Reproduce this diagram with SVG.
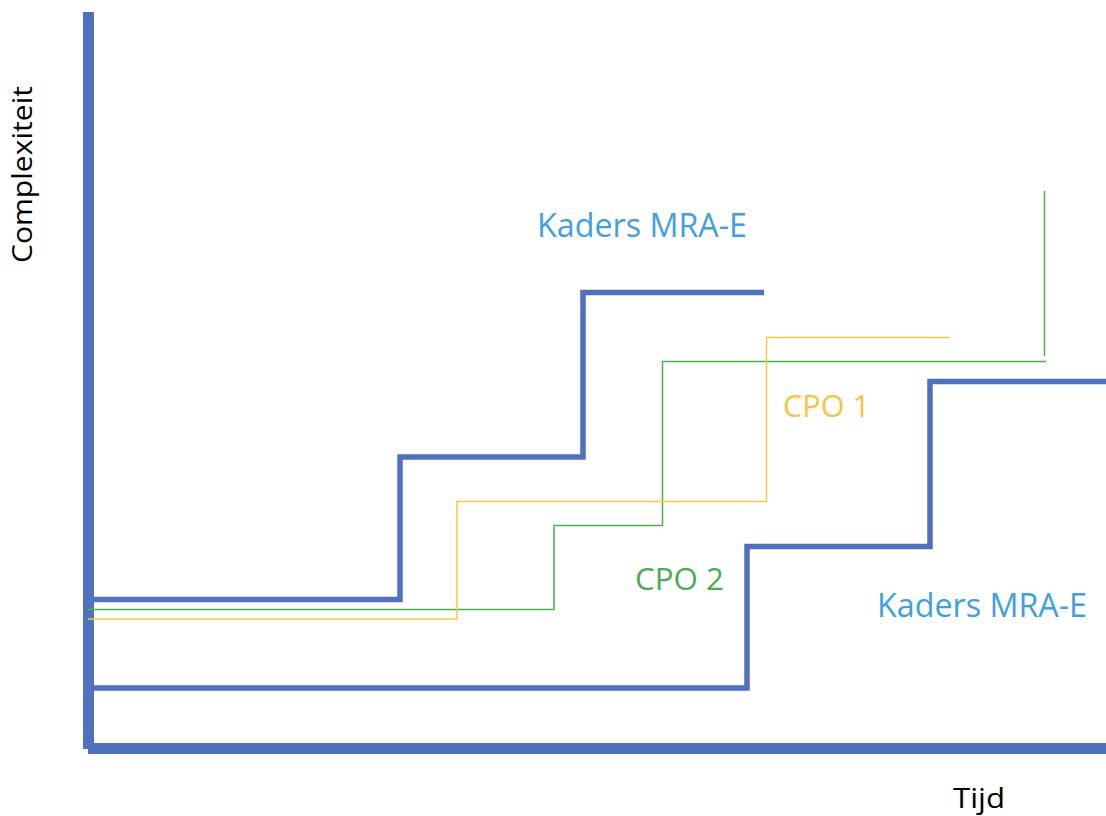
<svg xmlns="http://www.w3.org/2000/svg" width="1106" height="816" viewBox="0 0 1106 816">
<style>
.axis{stroke:#4F71BE;stroke-width:11;fill:none}
.blue{stroke:#4F71BE;stroke-width:5.5;fill:none}
.green{stroke:#4EAF4F;stroke-width:1.5;fill:none}
.yellow{stroke:#F8C745;stroke-width:1.5;fill:none}
text{font-family:"Open Sans","Noto Sans",sans-serif}
.lblBlue{fill:#41A0DE;font-size:32px}
.lblYellow{fill:#F7C340;font-size:31px}
.lblGreen{fill:#4CAB54;font-size:31px}
.lblBlack{fill:#000;font-size:28px}
</style>
<rect width="1106" height="816" fill="#fff"/>
<g id="connectors">
<path id="y-axis" class="axis" d="M88.5 12 V749"/>
<path id="x-axis" class="axis" d="M88 748.5 H1106"/>
<path id="kaders-upper" class="blue" d="M94 599.5 H400 V457 H583 V292.5 H764"/>
<path id="kaders-lower" class="blue" d="M94 688 H747 V546.5 H930 V381.5 H1106"/>
<path id="cpo2-line" class="green" d="M88 609.5 H554 V525.5 H662.5 V361.5 H1046"/>
<path id="cpo2-vert" class="green" d="M1044.5 191 V356"/>
<path id="cpo1-line" class="yellow" d="M88 619 H457 V501.5 H766.5 V337.5 H950"/>
</g>
<g id="label-complexiteit"><text class="lblBlack" transform="translate(32,263) rotate(-90)" textLength="177" lengthAdjust="spacingAndGlyphs">Complexiteit</text></g>
<g id="label-tijd"><text class="lblBlack" x="953" y="808" font-size="31" textLength="52" lengthAdjust="spacingAndGlyphs">Tijd</text></g>
<g id="label-kaders-top"><text class="lblBlue" x="537" y="237" textLength="210" lengthAdjust="spacingAndGlyphs">Kaders MRA-E</text></g>
<g id="label-kaders-bottom"><text class="lblBlue" x="877" y="617" textLength="210" lengthAdjust="spacingAndGlyphs">Kaders MRA-E</text></g>
<g id="label-cpo1"><text class="lblYellow" x="783" y="417" textLength="87" lengthAdjust="spacingAndGlyphs">CPO 1</text></g>
<g id="label-cpo2"><text class="lblGreen" x="635" y="590" textLength="89" lengthAdjust="spacingAndGlyphs">CPO 2</text></g>
</svg>
